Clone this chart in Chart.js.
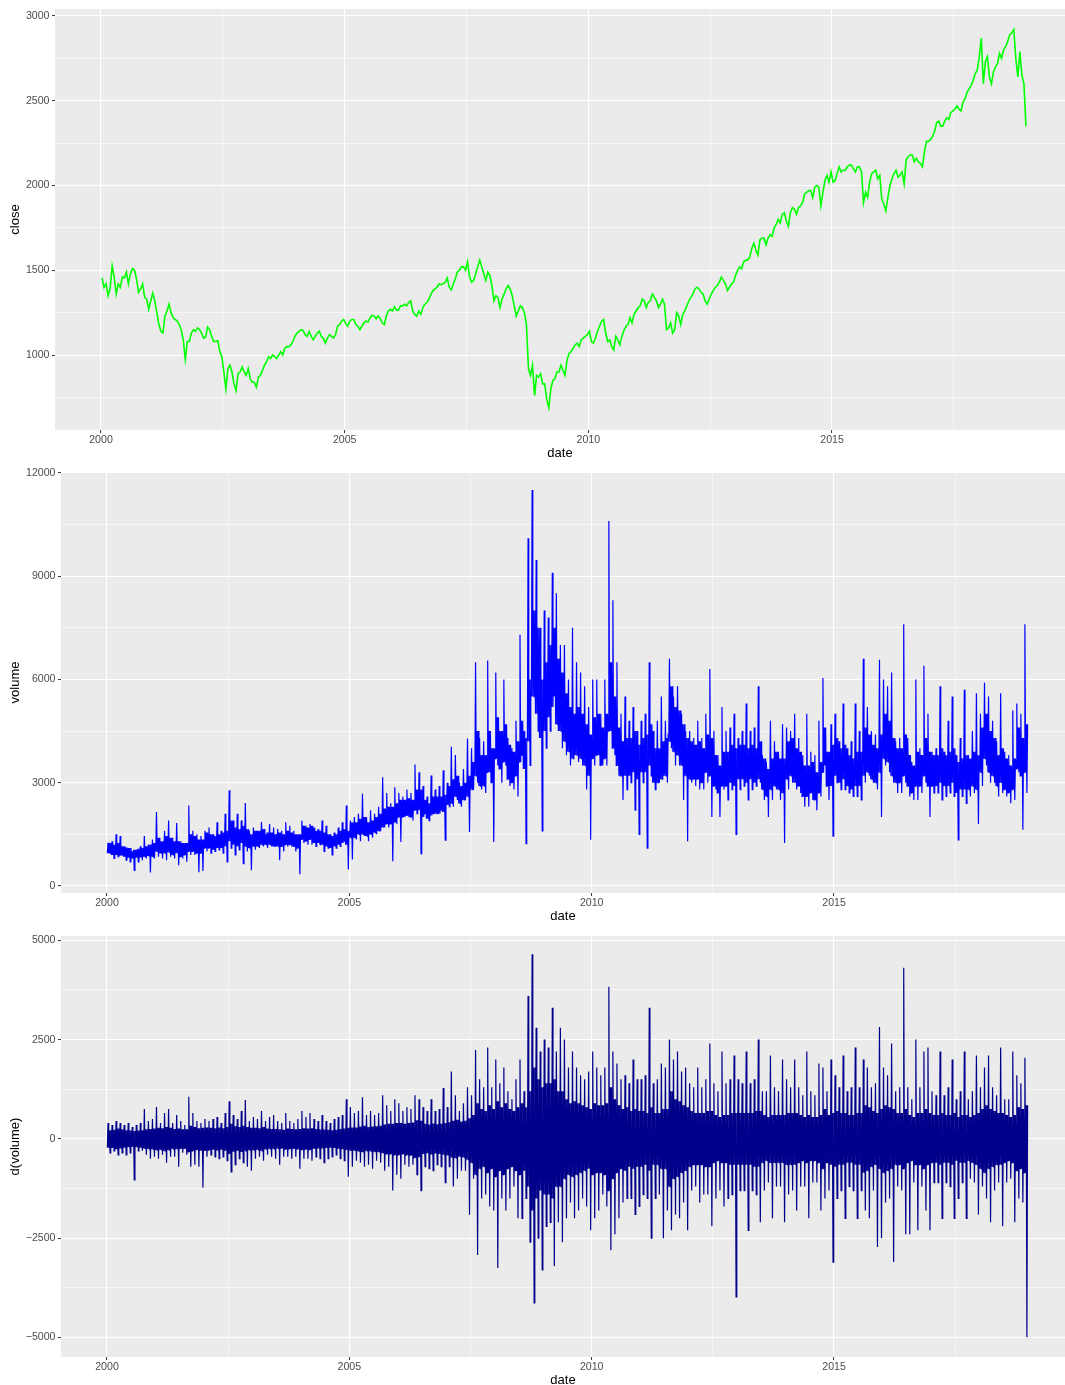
<!DOCTYPE html>
<html lang="en">
<head>
<meta charset="UTF-8">
<title>close / volume / d(volume)</title>
<script src="https://cdn.jsdelivr.net/npm/chart.js"></script>
<style>
  body { margin: 0; background: #fff; width: 1065px; height: 1385px; overflow: hidden; position: relative; }
  canvas { position: absolute; left: 0; }
</style>
</head>
<body>
<canvas id="closeChart" width="1065" height="464" style="top:0"></canvas>
<canvas id="volumeChart" width="1065" height="464" style="top:463px"></canvas>
<canvas id="dvolumeChart" width="1065" height="464" style="top:927px"></canvas>
<script>
// time axis: Jan 2000 .. Dec 2018
const firstYear = 2000;

// close, two readings per month (first half, second half)
const closeHalfMonthly = [
  1455,1400, 1420,1350, 1395,1525, 1460,1360, 1420,1400, 1460,1455, 1490,1420, 1480,1510, 1500,1450, 1370,1390, 1420,1340, 1330,1270,
  1320,1365, 1320,1250, 1180,1140, 1130,1230, 1260,1300, 1250,1220, 1210,1200, 1180,1150, 1090,975, 1080,1080, 1130,1150, 1140,1160,
  1150,1130, 1100,1105, 1165,1150, 1110,1080, 1080,1085, 1020,990, 900,800, 920,940, 900,830, 790,890, 900,930, 900,880,
  920,860, 840,840, 810,870, 880,910, 940,960, 990,980, 1000,990, 980,1000, 1020,1000, 1040,1050, 1050,1060, 1080,1110,
  1130,1140, 1150,1145, 1120,1110, 1140,1110, 1090,1110, 1130,1140, 1110,1100, 1070,1100, 1120,1110, 1100,1120, 1170,1180, 1200,1210,
  1185,1170, 1200,1210, 1210,1180, 1170,1150, 1170,1190, 1200,1195, 1220,1235, 1230,1215, 1230,1215, 1190,1180, 1230,1260, 1270,1260,
  1285,1265, 1265,1290, 1290,1300, 1290,1310, 1320,1260, 1240,1230, 1260,1240, 1280,1300, 1310,1330, 1360,1380, 1390,1400, 1420,1415,
  1420,1430, 1455,1400, 1385,1420, 1450,1490, 1500,1520, 1520,1500, 1550,1460, 1430,1440, 1480,1520, 1560,1520, 1480,1440, 1490,1470,
  1410,1320, 1350,1340, 1280,1330, 1360,1390, 1410,1390, 1350,1290, 1230,1260, 1290,1280, 1250,1180, 920,880, 940,760, 880,870,
  890,830, 830,740, 690,800, 850,860, 900,900, 940,910, 880,970, 1010,1020, 1040,1060, 1070,1050, 1090,1100, 1110,1120,
  1140,1080, 1070,1100, 1140,1170, 1200,1210, 1130,1080, 1090,1050, 1030,1110, 1090,1060, 1110,1145, 1170,1180, 1220,1190, 1240,1260,
  1280,1290, 1330,1320, 1280,1310, 1320,1360, 1340,1320, 1280,1300, 1330,1300, 1150,1160, 1190,1130, 1150,1250, 1230,1180, 1240,1260,
  1290,1320, 1340,1360, 1390,1400, 1390,1370, 1360,1320, 1300,1330, 1360,1380, 1400,1410, 1430,1460, 1440,1420, 1380,1400, 1420,1430,
  1470,1500, 1520,1510, 1550,1560, 1560,1580, 1630,1660, 1620,1590, 1680,1690, 1690,1650, 1690,1710, 1700,1750, 1770,1800, 1780,1830,
  1840,1790, 1760,1840, 1870,1860, 1830,1870, 1880,1900, 1950,1960, 1970,1970, 1930,1990, 2000,1990, 1880,1960, 2030,2060, 2020,2080,
  2020,2030, 2070,2110, 2080,2090, 2090,2110, 2120,2120, 2100,2080, 2110,2110, 2080,1900, 1960,1930, 2020,2070, 2080,2090, 2040,2060,
  1920,1890, 1850,1930, 2000,2040, 2070,2090, 2050,2060, 2080,2010, 2150,2170, 2180,2180, 2140,2160, 2140,2130, 2110,2200, 2260,2260,
  2270,2290, 2320,2370, 2380,2350, 2350,2380, 2400,2390, 2430,2440, 2450,2470, 2450,2440, 2490,2510, 2550,2570, 2590,2620, 2660,2680,
  2760,2870, 2600,2730, 2760,2640, 2600,2670, 2700,2720, 2780,2750, 2800,2820, 2850,2890, 2900,2920, 2750,2640, 2790,2650, 2600,2350
];

// volume, monthly extremes (spike high, dip low)
const volumeHigh = [
  1250,1300,1500,1450,1150,1100,1000,1050,1150,1450,1200,1350,
  2150,1300,1600,1900,1400,1830,1300,1250,2340,1600,1500,1450,
  1600,1700,1500,1850,1600,2100,2780,1900,2100,1900,2410,1600,
  1700,1600,1860,1500,1800,1700,1650,1600,1850,1750,1600,1500,
  1900,1750,1800,1700,1650,1900,1750,1500,1550,1700,1850,2340,
  1900,2000,2100,2680,2000,2200,2100,2300,3160,2700,2400,2870,
  2700,2600,2800,2700,3530,3300,2900,2600,3210,2800,2900,3360,
  3000,4040,3800,3000,3400,4280,4000,6500,4300,4200,6550,4000,
  6200,4500,6000,4300,4000,4800,7300,4500,10100,11500,9470,7500,
  8000,7800,9100,8500,7000,7000,6000,7500,6500,6200,5800,5200,
  6000,6000,5000,6000,10600,8300,6500,5000,5500,4800,5200,4500,
  4800,5000,6500,4500,4800,5500,4800,6600,5500,5800,5000,4500,
  4500,4300,4800,4300,5000,6300,4500,3800,5200,4500,4600,5000,
  4300,4500,5300,4500,4600,5800,3800,3600,4800,4200,3900,4700,
  4600,4500,5000,4300,3800,5000,3900,3800,4800,6040,3900,4700,
  5000,4200,5300,4000,4200,5300,4500,6600,5200,4500,4400,6570,
  6000,5800,6200,4200,4300,7600,4300,3600,6000,4000,6400,5000,
  3900,4000,5800,3900,4800,5500,3800,4300,5700,3800,4500,5600,
  5000,5900,5500,4800,4200,5600,3900,3800,5100,5300,5000,7600
];
const volumeLow = [
  950,800,850,900,750,700,455,700,750,800,390,800,
  850,800,750,850,800,600,800,700,900,900,400,435,
  1000,950,1000,1050,950,700,1100,900,1050,650,1000,455,
  1050,1100,1150,1100,1150,1150,750,1000,1150,1150,1000,340,
  1250,1200,1200,1150,1200,1000,1100,900,1100,1150,1300,480,
  770,1350,1300,1450,1300,1400,1500,1600,1700,1700,715,1800,
  1280,2000,2000,1900,2100,940,2100,1900,2100,2100,2200,1330,
  2300,2300,2500,2300,2500,1570,2800,3000,2800,2700,3300,1280,
  3500,3000,3500,2900,2800,2600,3800,1230,3500,5500,4500,1600,
  4000,4500,5500,4500,4000,3800,3500,3800,3600,3500,2800,1340,
  3500,3800,3500,3500,4500,3800,3200,2500,2800,3000,2200,1500,
  3000,1100,3200,2800,3000,3200,3000,4000,3500,3500,2500,1300,
  3000,2900,2800,2800,3000,2000,2800,2000,2800,2500,2800,1500,
  2800,2900,2500,2800,2900,3000,2500,2000,2500,2800,2500,1250,
  2800,3000,2800,2700,2300,2300,2500,2200,2600,3500,2500,1450,
  3000,2800,2800,2700,2600,2600,2500,3000,3200,3000,2800,2000,
  3500,3300,3000,2700,2700,3000,2600,2500,2500,2700,3000,2000,
  2700,2700,2500,2600,2700,2600,1340,2600,2400,2600,2700,1800,
  2900,3500,3000,3000,2600,2700,2600,2400,2500,3300,1630,2700
];
// volume, dense core of the band, per month
const volumeCoreLow = [
  950,900,900,880,850,820,800,820,830,850,870,850,
  1000,950,950,980,900,950,850,900,1000,1000,950,950,
  1100,1100,1050,1100,1100,1150,1300,1200,1150,1250,1150,1100,
  1150,1150,1200,1200,1200,1150,1150,1150,1200,1200,1150,1100,
  1350,1300,1350,1250,1250,1200,1150,1100,1150,1200,1250,1200,
  1400,1400,1500,1500,1450,1500,1550,1600,1700,1800,1800,1850,
  2000,2000,2050,2000,2200,2200,2000,1950,2050,2100,2100,2150,
  2350,2400,2600,2400,2500,2600,2800,3200,2900,2900,3300,3000,
  3700,3400,3600,3100,3000,3200,3600,3400,4200,5500,5000,4300,
  4500,4900,5200,4700,4500,4200,3900,3700,3800,3700,3500,3200,
  3700,3800,3500,3700,4500,4000,3500,3200,3200,3200,3300,3100,
  3300,3300,3500,3000,3000,3100,3200,4200,3900,3800,3500,3200,
  3100,3100,3100,3000,3300,3200,2900,2700,2900,2900,3000,2900,
  3100,3100,3000,3100,3000,3100,2800,2600,2800,2900,2800,2700,
  3100,3200,3000,2900,2600,2600,2700,2500,2700,3300,2900,2900,
  3200,3000,3100,2900,2800,2900,2900,3200,3300,3100,3000,3300,
  3700,3600,3200,3000,3000,3200,2900,2700,2900,2900,3200,2900,
  2900,2900,3000,2900,2900,3000,2700,2800,2800,2800,2900,2800,
  3300,3700,3300,3200,2900,3000,2800,2700,2800,3400,3200,3300
];
const volumeCoreHigh = [
  1250,1200,1250,1150,1120,1100,1050,1080,1100,1150,1200,1250,
  1400,1300,1450,1400,1300,1300,1250,1250,1500,1450,1350,1350,
  1550,1500,1450,1500,1550,1600,1900,1700,1650,1750,1650,1500,
  1600,1600,1650,1550,1550,1500,1550,1500,1600,1550,1500,1500,
  1750,1700,1750,1600,1600,1550,1500,1450,1500,1600,1650,1600,
  1850,1850,1950,2000,1850,1900,2000,2100,2250,2300,2300,2400,
  2500,2500,2550,2500,2800,2800,2500,2400,2600,2600,2600,2650,
  2900,3100,3200,2900,3000,3200,3600,4500,3800,3800,4500,4000,
  4900,4500,4700,4100,3900,4200,4800,4300,6000,8000,7500,6000,
  6500,7000,7500,6600,6200,5600,5200,5000,5200,5000,4700,4400,
  4900,5000,4600,5000,6500,5500,4600,4200,4300,4300,4500,4100,
  4300,4400,4700,4000,4000,4200,4300,5800,5200,5100,4700,4300,
  4200,4100,4200,4000,4400,4300,3800,3500,3900,3900,4100,4000,
  4100,4100,4000,4100,4000,4200,3700,3400,3700,3900,3700,3700,
  4200,4300,4000,3900,3500,3500,3600,3300,3600,4600,3900,4100,
  4300,4000,4100,3800,3700,3900,3900,4600,4400,4100,4000,4400,
  5000,4800,4300,4000,4000,4400,3800,3500,3900,3800,4300,3900,
  3800,3800,4000,3800,3900,4000,3600,3700,3800,3700,3900,3800,
  4600,5000,4500,4300,3800,4000,3700,3500,3700,4600,4300,4700
];

// d(volume), monthly extremes
const dvolumeHigh = [
  400,350,450,400,350,400,300,350,400,750,450,500,
  800,400,650,750,400,600,450,350,1060,650,450,400,
  500,450,500,550,400,650,950,600,500,700,980,450,
  550,500,700,450,550,600,450,400,650,450,400,500,
  700,550,650,500,450,600,450,400,500,550,600,1000,
  800,650,700,1050,600,700,600,650,1100,850,700,1000,
  900,700,800,750,1100,1000,800,700,1000,700,750,1280,
  800,1700,1100,700,900,1300,1100,2240,1500,1300,2300,1300,
  2000,1400,1800,1200,1000,1500,2000,1200,3600,4650,2800,2200,
  2500,2300,3300,2200,2800,2500,1800,2200,1800,1600,1500,1700,
  2200,1800,1600,1800,3830,2200,1900,1500,1600,1400,2000,1500,
  1500,1600,3300,1400,1500,1900,1800,2500,2000,2200,1700,1800,
  1400,1300,1800,1300,1500,2400,1400,1200,2200,1400,1500,2100,
  1500,1400,2200,1400,1500,2500,1200,1200,2100,1300,1200,2000,
  1500,1300,2000,1300,1100,2200,1200,1100,1900,1800,1200,2000,
  1600,1300,2100,1200,1300,2300,1300,2000,1800,1300,1400,2820,
  1800,1600,2400,1200,1300,4310,1300,1000,2500,1300,2200,2300,
  1200,1100,2200,1100,1300,2000,1000,1200,2200,1000,1200,2100,
  1300,1800,2100,1300,1100,2300,1000,1000,2200,1600,1400,2040
];
const dvolumeLow = [
  -350,-300,-400,-350,-400,-350,-1030,-300,-300,-400,-500,-450,
  -500,-400,-600,-450,-450,-700,-350,-400,-700,-650,-700,-1230,
  -450,-400,-450,-500,-450,-550,-830,-650,-500,-600,-700,-800,
  -500,-450,-550,-400,-450,-500,-650,-450,-450,-500,-450,-750,
  -500,-500,-550,-450,-500,-600,-500,-450,-400,-500,-550,-950,
  -700,-550,-600,-700,-650,-750,-550,-600,-800,-700,-1300,-900,
  -1000,-650,-700,-650,-900,-1300,-700,-750,-800,-650,-700,-1100,
  -700,-1200,-1000,-800,-800,-1910,-1000,-2920,-1500,-1400,-1700,-1800,
  -3250,-1500,-1800,-1500,-1200,-2000,-2000,-1500,-2600,-4130,-2500,-3300,
  -2200,-2100,-3200,-2100,-2600,-2000,-1600,-2000,-1800,-1500,-1700,-2300,
  -2000,-1800,-1400,-1700,-2800,-2400,-2000,-1600,-1500,-1500,-1900,-1700,
  -1400,-1500,-2500,-1500,-1400,-2500,-1800,-2300,-1900,-2000,-1600,-2300,
  -1300,-1200,-1600,-1400,-1400,-2200,-1500,-1300,-1700,-1500,-1400,-3980,
  -1300,-1300,-2300,-1300,-1400,-2100,-1300,-1100,-2000,-1200,-1200,-2100,
  -1400,-1300,-1800,-1200,-1200,-2000,-1100,-1100,-1800,-1500,-1300,-3100,
  -1500,-1300,-2000,-1200,-1300,-2000,-1300,-1800,-2000,-1300,-2720,-2500,
  -1600,-1500,-3100,-1200,-1300,-2400,-2400,-1100,-2300,-1200,-1800,-2300,
  -1100,-1100,-2000,-1100,-1200,-2000,-1500,-1100,-2000,-1000,-1100,-1900,
  -1200,-1500,-2100,-1300,-1100,-2200,-1100,-1000,-2100,-1500,-1600,-4990
];
// d(volume), dense core half-width, per month
const dvolumeCore = [
  220,230,260,240,220,210,200,210,220,240,250,260,
  280,270,300,280,250,260,240,240,330,300,270,280,
  290,280,270,290,270,300,380,320,300,330,300,280,
  280,270,300,260,250,250,240,230,260,250,240,250,
  270,260,270,250,240,240,230,220,230,250,260,280,
  290,290,310,330,300,310,320,330,360,380,380,400,
  400,380,400,410,470,460,380,360,390,370,380,400,
  420,460,480,440,460,520,600,900,750,700,850,750,
  950,800,900,750,700,800,900,800,1200,1800,1500,1300,
  1400,1400,1500,1200,1200,1000,900,950,900,850,800,750,
  900,850,850,900,1300,1000,850,750,800,700,750,700,
  700,650,800,650,650,750,750,1200,1000,950,850,800,
  700,650,650,650,700,700,600,550,600,600,650,650,
  650,650,650,650,700,700,600,550,600,600,600,600,
  650,650,650,600,550,600,550,550,600,750,600,650,
  700,650,650,600,600,650,650,850,800,700,650,750,
  850,800,750,650,650,750,600,550,650,650,750,650,
  600,600,650,600,600,650,550,600,600,550,600,650,
  750,850,750,700,650,650,600,550,600,800,750,850
];

// axis breaks
const dateTicks = [2000, 2005, 2010, 2015];
const closeTicks = [1000, 1500, 2000, 2500, 3000];
const volumeTicks = [0, 3000, 6000, 9000, 12000];
const dvolumeTicks = [-5000, -2500, 0, 2500, 5000];

// ---------- helpers ----------
const FONT = "'Liberation Sans', Arial, Helvetica, sans-serif";

function halfMonthPoints(values) {
  return values.map((v, i) => ({ x: firstYear + (i + 0.5) / 24, y: v }));
}

// each month: core low, spike up, core, dip down, core -> band like the daily series
function bandPoints(high, low, coreHigh, coreLow) {
  const pts = [];
  high.forEach((h, m) => {
    const seq = [coreLow[m], h, coreLow[m], coreHigh[m], low[m], coreHigh[m]];
    seq.forEach((v, k) => pts.push({ x: firstYear + (m + (k + 0.5) / 6) / 12, y: v }));
  });
  return pts;
}

function minorBreaks(major, min, max) {
  const step = major[1] - major[0];
  const out = [];
  for (let v = major[0] - step / 2; v <= major[major.length - 1] + step / 2; v += step) {
    if (v >= min && v <= max) out.push(v);
  }
  return out;
}

function fmt(v) {
  return v < 0 ? '\u2212' + Math.abs(v) : String(v);
}

function axis(major, min, max, title, size, isX) {
  const all = major.concat(minorBreaks(major, min, max)).sort((a, b) => a - b);
  return {
    type: 'linear',
    min: min,
    max: max,
    afterBuildTicks: s => { s.ticks = all.map(v => ({ value: v })); },
    afterFit: s => { if (isX) s.height = size; else s.width = size; },
    grid: {
      color: '#FFFFFF',
      lineWidth: c => major.includes(c.tick.value) ? 1.1 : 0.55,
      tickColor: c => major.includes(c.tick.value) ? '#333333' : 'rgba(0,0,0,0)',
      tickLength: 3,
      tickWidth: 1
    },
    border: { display: false },
    ticks: {
      autoSkip: false,
      maxRotation: 0,
      padding: isX ? 1 : 2.5,
      color: '#4D4D4D',
      font: { family: FONT, size: 10.6 },
      callback: v => major.includes(v) ? fmt(v) : ''
    },
    title: {
      display: true,
      text: title,
      color: '#000000',
      font: { family: FONT, size: 13 },
      padding: isX ? { top: 0, bottom: 3.2 } : { top: 7.2, bottom: 0 }
    }
  };
}

const panelBackground = {
  id: 'panelBackground',
  beforeDraw(chart) {
    const { ctx, chartArea: a } = chart;
    ctx.save();
    ctx.fillStyle = '#EBEBEB';
    ctx.fillRect(a.left, a.top, a.right - a.left, a.bottom - a.top);
    ctx.restore();
  }
};

function makePanel(id, points, color, width, yTitle, yTicks, yMin, yMax, yWidth, xMin, xMax) {
  return new Chart(document.getElementById(id), {
    type: 'line',
    data: {
      datasets: [{
        data: points,
        borderColor: color,
        borderWidth: width,
        pointRadius: 0,
        tension: 0,
        fill: false
      }]
    },
    options: {
      responsive: false,
      animation: false,
      devicePixelRatio: 1,
      layout: { autoPadding: false, padding: { top: 9, left: 0, right: 0, bottom: 0 } },
      plugins: { legend: { display: false }, tooltip: { enabled: false } },
      scales: {
        x: axis(dateTicks, xMin, xMax, 'date', 34, true),
        y: axis(yTicks, yMin, yMax, yTitle, yWidth, false)
      }
    },
    plugins: [panelBackground]
  });
}

makePanel('closeChart', halfMonthPoints(closeHalfMonthly), '#00FF00', 1.6, 'close',
  closeTicks, 558, 3041, 55, 1999.056, 2019.78);
makePanel('volumeChart', bandPoints(volumeHigh, volumeLow, volumeCoreHigh, volumeCoreLow), '#0000FF', 1.2, 'volume',
  volumeTicks, -205, 12025, 61, 1999.051, 2019.765);
makePanel('dvolumeChart', bandPoints(dvolumeHigh, dvolumeLow, dvolumeCore, dvolumeCore.map(c => -c)), '#00008B', 1.2, 'd(volume)',
  dvolumeTicks, -5490, 5108, 61, 1999.051, 2019.765);
</script>
</body>
</html>
